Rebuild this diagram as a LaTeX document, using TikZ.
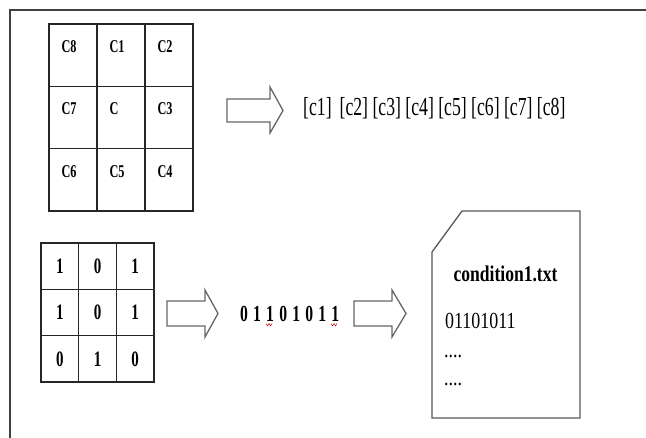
\documentclass[tikz,border=0pt]{standalone}
\usepackage{fontspec}
\setmainfont[FakeStretch=0.78]{Liberation Serif}
\newfontfamily\narrowserif[FakeStretch=0.68]{Liberation Serif}
\newcommand\dg{\kern5.2bp}
\begin{document}
\begin{tikzpicture}[x=1bp,y=-1bp,
  frame/.style={draw=black!75,line width=1.3bp},
  gridcell/.style={draw=black!85,line width=1.3bp,rectangle,inner sep=0pt},
  bigcell/.style={gridcell,minimum width=48bp,minimum height=62.33bp},
  smallcell/.style={gridcell,minimum width=37.67bp,minimum height=46.33bp,
    font=\narrowserif\fontsize{22bp}{24bp}\selectfont\bfseries},
  celllabel/.style={inner sep=0pt,anchor=base west,
    font=\narrowserif\fontsize{18bp}{20bp}\selectfont\bfseries},
  txt/.style={inner sep=0pt,anchor=base west},
  blockarrow/.style={draw=black!60,fill=white,line width=1.3bp,line join=miter},
  docshape/.style={draw=black!65,fill=white,line width=1.3bp},
  squiggle/.style={draw=red!75!black,line width=0.5bp}]
\useasboundingbox (0,0) rectangle (646,438);
\fill[white] (0,0) rectangle (646,438);

% outer frame (left and top edges)
\draw[frame] (10,438) -- (10,10) -- (646,10);

% 3x3 neighbourhood grid with cell names
\foreach \r/\lbls in {1/{C8,C1,C2},2/{C7,C,C3},3/{C6,C5,C4}}{
  \foreach \lb [count=\c] in \lbls{
    \node[bigcell] (t-\r-\c) at ({49+48*(\c-0.5)},{24+62.33*(\r-0.5)}) {};
    \node[celllabel] (tl-\r-\c) at ([shift={(13,29)}]t-\r-\c.north west) {\lb};
  }
}

% arrow to the ordered list
\draw[blockarrow] (227,99) -- (270,99) -- (270,87) -- (283,110.5) -- (270,133)
  -- (270,122) -- (227,122) -- cycle;
\node[txt,font=\narrowserif\fontsize{26bp}{28bp}\selectfont] (seq) at (303,116)
  {[c1]\hspace{8bp}[c2] [c3] [c4] [c5] [c6] [c7] [c8]};

% 3x3 binary grid
\foreach \r/\vals in {1/{1,0,1},2/{1,0,1},3/{0,1,0}}{
  \foreach \v [count=\c] in \vals{
    \node[smallcell] (b-\r-\c) at ({41+37.67*(\c-0.5)},{243+46.33*(\r-0.5)}) {\v};
  }
}

% arrow to the bit string
\draw[blockarrow] (167,301) -- (205,301) -- (205,290) -- (218,313.5) -- (205,337)
  -- (205,326) -- (167,326) -- cycle;
\node[txt,font=\narrowserif\fontsize{23bp}{25bp}\selectfont\bfseries] (bits) at (240,322)
  {0\dg1\dg1\dg0\dg1\dg0\dg1\dg1};
\draw[squiggle] (266,323.5) -- (267.5,326) -- (269,323.5) -- (270.5,326) -- (272,323.5);
\draw[squiggle] (331,323.5) -- (332.5,326) -- (334,323.5) -- (335.5,326) -- (337,323.5);

% arrow to the file
\draw[blockarrow] (354,301) -- (392,301) -- (392,290) -- (406,313.5) -- (392,337)
  -- (392,326) -- (354,326) -- cycle;

% file with a cut corner
\draw[docshape] (462,211) -- (580,211) -- (580,418) -- (432,418) -- (432,252) -- cycle;
\node[inner sep=0pt,anchor=base,font=\fontsize{22.5bp}{24bp}\selectfont\bfseries]
  (fname) at (505.5,282) {condition1.txt};
\node[txt,font=\fontsize{23bp}{25bp}\selectfont] (line1) at (445,328) {01101011};
\node[txt,font=\fontsize{23bp}{25bp}\selectfont] (line2) at (444,357) {....};
\node[txt,font=\fontsize{23bp}{25bp}\selectfont] (line3) at (444,385) {....};
\end{tikzpicture}
\end{document}
